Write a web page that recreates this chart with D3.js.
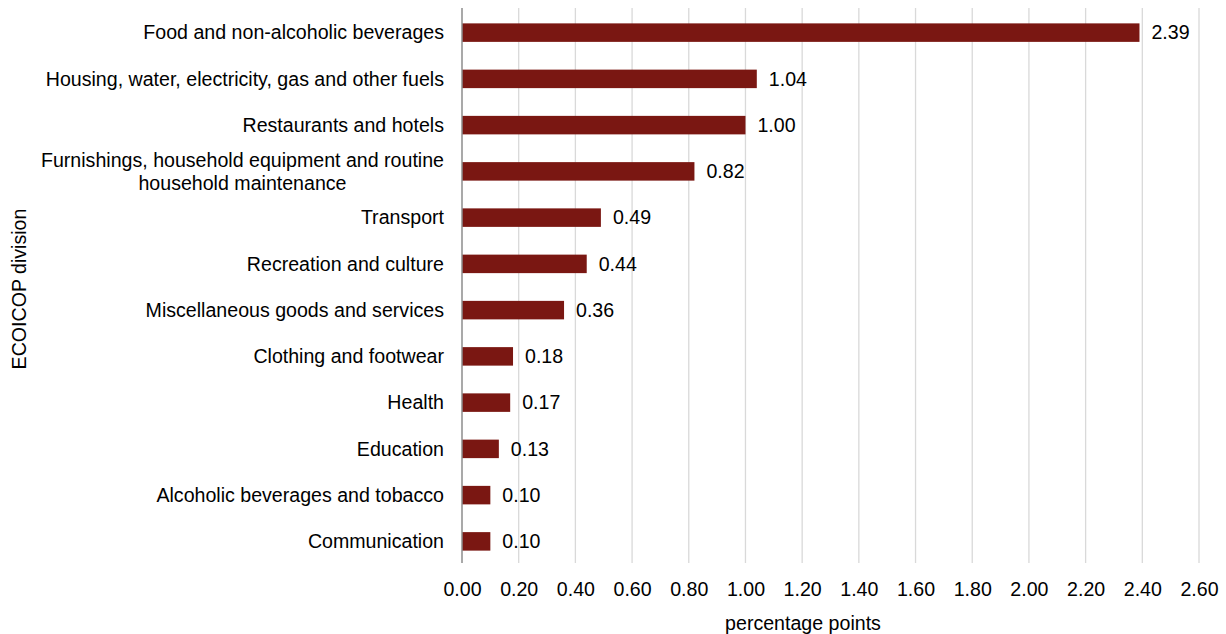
<!DOCTYPE html>
<html>
<head>
<meta charset="utf-8">
<script src="https://cdn.jsdelivr.net/npm/d3@7"></script>
<style>
  html, body { margin: 0; padding: 0; background: #fff; }
  svg { display: block; font-family: "Liberation Sans", Arial, sans-serif; }
</style>
</head>
<body>
<svg id="chart" width="1226" height="634"></svg>
<script>
const categories = [
  "Food and non-alcoholic beverages",
  "Housing, water, electricity, gas and other fuels",
  "Restaurants and hotels",
  "Furnishings, household equipment and routine\nhousehold maintenance",
  "Transport",
  "Recreation and culture",
  "Miscellaneous goods and services",
  "Clothing and footwear",
  "Health",
  "Education",
  "Alcoholic beverages and tobacco",
  "Communication"
];
const values = [2.39, 1.04, 1.00, 0.82, 0.49, 0.44, 0.36, 0.18, 0.17, 0.13, 0.10, 0.10];
const xTicks = [0, 0.2, 0.4, 0.6, 0.8, 1.0, 1.2, 1.4, 1.6, 1.8, 2.0, 2.2, 2.4, 2.6];
const xTitle = "percentage points";
const yTitle = "ECOICOP division";

const svg = d3.select("#chart");
const fs = 19.6;
const barColor = "#7a1712";

const x = d3.scaleLinear().domain([0, 2.6]).range([462, 1199]);
const y = d3.scaleBand().domain(categories).range([9.5, 564.5]).paddingInner(0.6).paddingOuter(0.3);

const plotTop = 8, plotBottom = 563;

// gridlines
svg.append("g").selectAll("line").data(xTicks.slice(1)).join("line")
  .attr("x1", d => x(d)).attr("x2", d => x(d))
  .attr("y1", plotTop).attr("y2", plotBottom)
  .attr("stroke", "#d9d9d9").attr("stroke-width", 1.3);

// bars
svg.append("g").selectAll("rect").data(values).join("rect")
  .attr("x", x(0))
  .attr("y", (d, i) => y(categories[i]))
  .attr("width", d => x(d) - x(0))
  .attr("height", y.bandwidth())
  .attr("fill", barColor);

// zero axis line
svg.append("line")
  .attr("x1", x(0)).attr("x2", x(0))
  .attr("y1", plotTop).attr("y2", plotBottom)
  .attr("stroke", "#8c8c8c").attr("stroke-width", 1.5);

// value labels
svg.append("g").selectAll("text").data(values).join("text")
  .attr("x", d => x(d) + 12)
  .attr("y", (d, i) => y(categories[i]) + y.bandwidth() / 2)
  .attr("dy", "0.35em")
  .attr("font-size", fs)
  .attr("fill", "#000")
  .text(d => d.toFixed(2));

// x axis tick labels
const xAxis = d3.axisBottom(x).tickValues(xTicks).tickFormat(d3.format(".2f")).tickSize(0).tickPadding(0);
const gx = svg.append("g").attr("transform", `translate(0, ${plotBottom})`).call(xAxis);
gx.select(".domain").remove();
gx.selectAll("text")
  .attr("y", 26).attr("dy", "0.35em")
  .attr("font-size", fs).attr("fill", "#000")
  .attr("font-family", "Liberation Sans, Arial, sans-serif");

// category labels
const lineH = 23;
const labelG = svg.append("g");
categories.forEach((c, i) => {
  const lines = c.split("\n");
  const cy = y(c) + y.bandwidth() / 2;
  const t = labelG.append("text")
    .attr("font-size", fs).attr("fill", "#000");
  if (lines.length === 1) {
    t.attr("x", 444).attr("y", cy).attr("dy", "0.35em").attr("text-anchor", "end").text(c);
  } else {
    t.attr("text-anchor", "middle");
    const tmp = labelG.append("text").attr("font-size", fs).text(lines[0]);
    const w = tmp.node().getComputedTextLength();
    tmp.remove();
    const cx = 444 - w / 2;
    lines.forEach((ln, k) => {
      t.append("tspan")
        .attr("x", cx)
        .attr("y", cy + (k - (lines.length - 1) / 2) * lineH)
        .attr("dy", "0.35em")
        .text(ln);
    });
  }
});

// axis titles
svg.append("text")
  .attr("x", 803).attr("y", 623).attr("dy", "0.35em")
  .attr("text-anchor", "middle").attr("font-size", fs).attr("fill", "#000")
  .text(xTitle);

svg.append("text")
  .attr("transform", "translate(19, 289) rotate(-90)")
  .attr("dy", "0.35em")
  .attr("text-anchor", "middle").attr("font-size", fs).attr("fill", "#000")
  .text(yTitle);
</script>
</body>
</html>
